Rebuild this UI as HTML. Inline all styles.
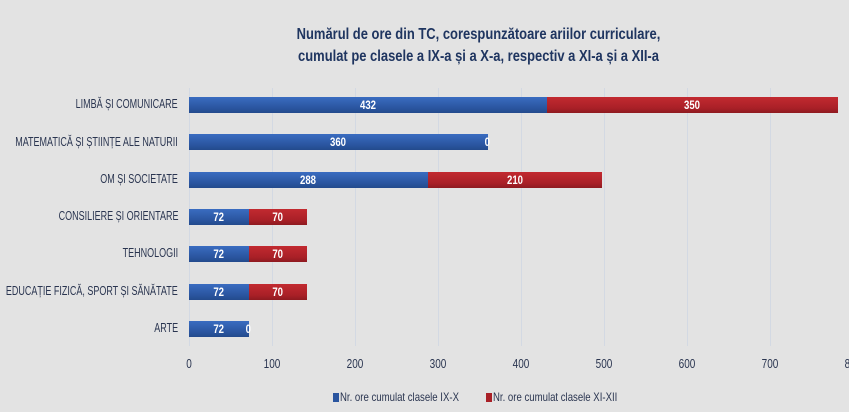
<!DOCTYPE html>
<html><head><meta charset="utf-8"><style>
body{margin:0;background:#e3e3e3;}
#c{position:relative;width:849px;height:412px;background:#e3e3e3;font-family:"Liberation Sans",sans-serif;overflow:hidden;}
.t{position:absolute;left:54px;width:849px;text-align:center;font-weight:bold;font-size:16px;color:#1f3560;transform:scaleX(0.81);}
.g{position:absolute;top:88px;height:258px;width:1px;background:#d3d9e3;}
.lab{position:absolute;right:671px;font-size:12.5px;color:#2a3550;white-space:nowrap;transform:scaleX(0.72);transform-origin:right center;}
.b{position:absolute;height:16px;color:#fff;font-size:12px;font-weight:bold;text-align:center;line-height:16px;}
.b span{display:inline-block;transform:scaleX(0.8);}
.bl{background:linear-gradient(#3a6cc0,#2a559f 70%,#234a8c);}
.rd{background:linear-gradient(#c22a30,#a92027 70%,#8e1a20);}
.tk{position:absolute;top:357px;font-size:12.5px;color:#2a3550;width:40px;margin-left:-20px;text-align:center;transform:scaleX(0.8);}
.lg{position:absolute;top:390px;font-size:12px;color:#2a3550;white-space:nowrap;transform:scaleX(0.8);transform-origin:left center;}
</style></head><body><div id="c">
<div class="t" style="top:26px">Numărul de ore din TC, corespunzătoare ariilor curriculare,</div>
<div class="t" style="top:48px">cumulat pe clasele a IX-a și a X-a, respectiv a XI-a și a XII-a</div>
<div class="g" style="left:189px"></div><div class="g" style="left:272px"></div><div class="g" style="left:355px"></div><div class="g" style="left:438px"></div><div class="g" style="left:521px"></div><div class="g" style="left:604px"></div><div class="g" style="left:687px"></div><div class="g" style="left:770px"></div>

<div class="lab" style="top:97px">LIMBĂ ȘI COMUNICARE</div>
<div class="b bl" style="top:97px;left:189px;width:358px"><span>432</span></div>
<div class="b rd" style="top:97px;left:547px;width:291px"><span>350</span></div>

<div class="lab" style="top:135px">MATEMATICĂ ȘI ȘTIINȚE ALE NATURII</div>
<div class="b bl" style="top:134px;left:189px;width:299px"><span>360</span></div>
<div class="b" style="top:134px;left:482px;width:10px"><span>0</span></div>

<div class="lab" style="top:172px">OM ȘI SOCIETATE</div>
<div class="b bl" style="top:172px;left:189px;width:239px"><span>288</span></div>
<div class="b rd" style="top:172px;left:428px;width:174px"><span>210</span></div>

<div class="lab" style="top:209px">CONSILIERE ȘI ORIENTARE</div>
<div class="b bl" style="top:209px;left:189px;width:60px"><span>72</span></div>
<div class="b rd" style="top:209px;left:249px;width:58px"><span>70</span></div>

<div class="lab" style="top:246px">TEHNOLOGII</div>
<div class="b bl" style="top:246px;left:189px;width:60px"><span>72</span></div>
<div class="b rd" style="top:246px;left:249px;width:58px"><span>70</span></div>

<div class="lab" style="top:284px">EDUCAȚIE FIZICĂ, SPORT ȘI SĂNĂTATE</div>
<div class="b bl" style="top:284px;left:189px;width:60px"><span>72</span></div>
<div class="b rd" style="top:284px;left:249px;width:58px"><span>70</span></div>

<div class="lab" style="top:321px">ARTE</div>
<div class="b bl" style="top:321px;left:189px;width:60px"><span>72</span></div>
<div class="b" style="top:321px;left:243px;width:10px"><span>0</span></div>

<div class="tk" style="left:189px">0</div><div class="tk" style="left:272px">100</div><div class="tk" style="left:355px">200</div><div class="tk" style="left:438px">300</div><div class="tk" style="left:521px">400</div><div class="tk" style="left:604px">500</div><div class="tk" style="left:687px">600</div><div class="tk" style="left:770px">700</div><div class="tk" style="left:853px">800</div>

<div style="position:absolute;top:393px;left:333px;width:6px;height:9px;background:#2a559f"></div>
<div class="lg" style="left:340px">Nr. ore cumulat clasele IX-X</div>
<div style="position:absolute;top:393px;left:486px;width:6px;height:9px;background:#a92027"></div>
<div class="lg" style="left:493px">Nr. ore cumulat clasele XI-XII</div>
</div></body></html>
